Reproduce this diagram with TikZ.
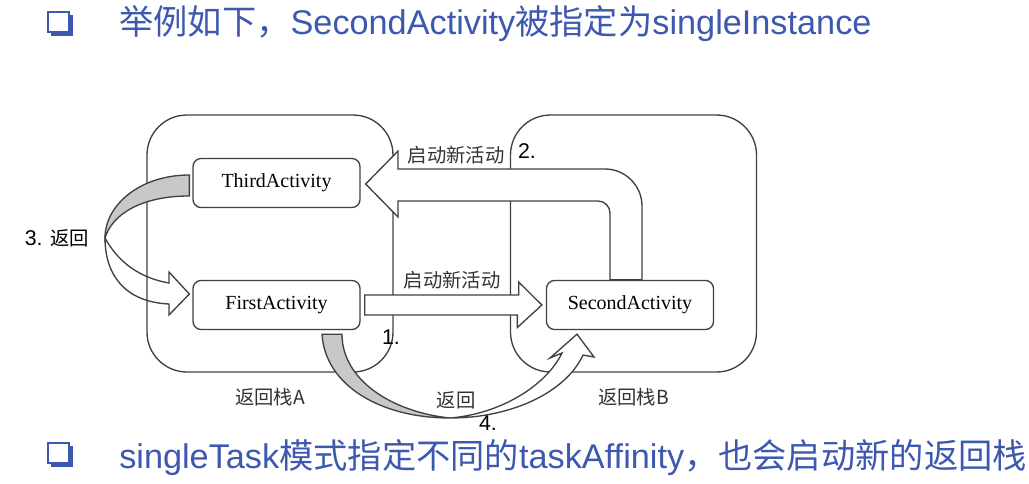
\documentclass[tikz,border=0pt]{standalone}
\usepackage{fontspec}
\setmainfont{Liberation Serif}
\setsansfont{Liberation Sans}
\newfontfamily\cjk{Noto Sans CJK SC}
\usepackage{tikz}
\usetikzlibrary{positioning,calc}
\definecolor{titleblue}{RGB}{61,88,175}
\definecolor{linegray}{RGB}{64,64,64}
\definecolor{ribbongray}{RGB}{200,200,200}

\begin{document}
\begin{tikzpicture}[x=0.75pt,y=-0.75pt,
stack/.style={draw=linegray,line width=1pt,rounded corners=30pt,
minimum width=184.5pt,minimum height=192.75pt},
act/.style={draw=linegray,line width=1pt,fill=white,rounded corners=6pt,
minimum width=125.25pt,minimum height=36.75pt,
font=\fontsize{15}{18}\selectfont},
blockarrow/.style={draw=linegray,line width=1pt,fill=white},
ribbon/.style={draw=linegray,line width=1pt,fill=ribbongray},
cnlabel/.style={font=\cjk\fontsize{14.5}{17}\selectfont,text=black!80},
numtext/.style={font=\sffamily\fontsize{16}{19}\selectfont},
headline/.style={anchor=west,inner sep=0pt,text=titleblue,
font=\sffamily\fontsize{25.7}{30}\selectfont}]
\useasboundingbox (0,0) rectangle (1029,483);

% bullets and the two lines of text
\foreach \y in {12,443} {
\fill[titleblue] (51,\y+3) rectangle (73,\y+24);
\draw[titleblue,fill=white,line width=0.8pt] (48,\y) rectangle (69,\y+20);
}
\node[headline] (title) at (119,24)
{{\cjk 举例如下，}SecondActivity{\cjk 被指定为}singleInstance};
\node[headline] (note) at (119,458)
{singleTask{\cjk 模式指定不同的}taskAffinity{\cjk ，也会启动新的返回栈}};

% the two back stacks
\node[stack] (stackA) at (270,243.5) {};
\node[stack] (stackB) at (633.5,243.5) {};
\node[cnlabel,below=8pt of stackA] (nameA) {返回栈A};
\node[cnlabel,below=8pt of stackB] (nameB) {返回栈B};

% activities
\node[act] (third) at (276.5,183) {ThirdActivity};
\node[act] (first) at (276.5,305) {FirstActivity};
\node[act] (second) at (630,305) {SecondActivity};

% 1. first -> second
\draw[blockarrow] ($(first.east)+(4,-10)$) -- ++(154,0) -- ++(0,-13)
-- ($(second.west)+(-4,0)$) -- ++(-24.5,22.5) -- ++(0,-12.5)
-- ($(first.east)+(4,10)$) -- cycle;
\node[cnlabel] (launch1) at (452,280) {启动新活动};
\node[numtext] (n1) at (391,337) {1.};

% 2. second -> third
\draw[blockarrow] ($(second.north)+(-20,0)$) -- (610,213)
.. controls (610,206.4) and (604.6,201) .. (598,201) -- (398,201)
-- (398,217) -- ($(third.east)+(5,1)$) -- (398,151) -- (398,169) -- (605,169)
.. controls (625.4,169) and (642,185.6) .. (642,206)
-- ($(second.north)+(12,0)$) -- cycle;
\node[cnlabel] (launch2) at (456,155) {启动新活动};
\node[numtext] (n2) at (527,151) {2.};

% 3. third -> first (back)
\draw[ribbon] ($(third.west)+(-3,-8)$) .. controls (140,175) and (105,205)
.. (105,238) .. controls (112,215) and (140,196) .. ($(third.west)+(-3,13)$)
-- cycle;
\draw[blockarrow,fill=none] (105,238) .. controls (116,258) and (135,277)
.. (169,283) -- (169,272) -- ($(first.west)+(-3,-11)$) -- (169,315)
-- (169,304) .. controls (125,302) and (105,275) .. (105,238) -- cycle;
\node[numtext] (n3) at (57,238) {3. {\cjk\fontsize{14.5}{17}\selectfont 返回}};

% 4. first -> second (back)
\draw[ribbon] ($(first.south)+(45.5,4)$) .. controls (325,385) and (380,418)
.. (450,418) .. controls (392,412) and (342,380) .. ($(first.south)+(65.5,4)$)
-- cycle;
\draw[blockarrow] (450,418) .. controls (512,418) and (566,392) .. (583,355)
-- (594,357) -- ($(second.south)+(-53,4)$) -- (550,358) -- (562,353)
.. controls (546,386) and (500,414) .. (450,418) -- cycle;
\node[cnlabel] (back) at (456,400) {返回};
\node[numtext] (n4) at (488,423) {4.};
\end{tikzpicture}
\end{document}
